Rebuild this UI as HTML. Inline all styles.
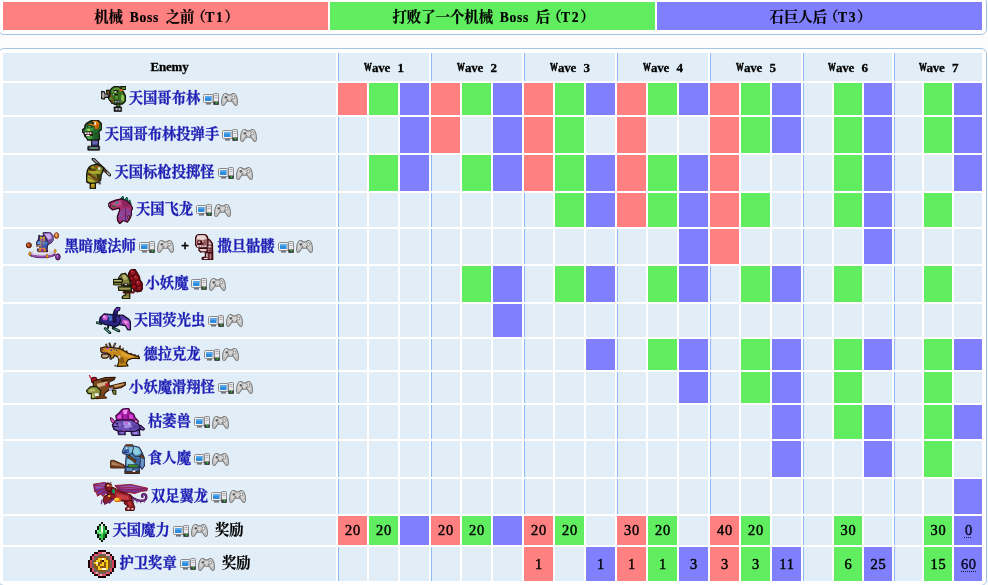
<!DOCTYPE html>
<html lang="zh-Hans"><head><meta charset="utf-8"><title>撒旦军队</title><style>
html,body{margin:0;padding:0;overflow:hidden;}
body{background:#fcfcfc;width:988px;height:585px;overflow:hidden;position:relative;
 font-family:"Liberation Serif","Noto Serif CJK SC",serif;font-size:14.4px;line-height:16px;color:#000;font-weight:bold;}
table{position:absolute;left:-2px;width:989px;border:1px solid #a3c4e0;border-radius:6px;
 border-collapse:separate;border-spacing:2px;padding:2px;background:#fff;table-layout:fixed;box-sizing:border-box;}
td,th{padding:0;margin:0;background:#e1eef7;text-align:center;vertical-align:middle;overflow:hidden;white-space:nowrap;box-sizing:border-box;font-weight:bold;}
#legend{top:-3px;}
#legend td{height:28px;}
#main{top:48px;}
th{height:28px;}
.s{border-left:1px solid #8cb8fa;}
.r{background:#ff8080;border-left:0;}
.g{background:#60ee60;border-left:0;}
.b{background:#8080ff;border-left:0;}
a{color:#1e1eb4;text-decoration:none;-webkit-text-stroke:0.3px #1e1eb4;}
.t,.lg{-webkit-text-stroke:0.2px #000;}
#main td:not(.n){font-size:14.4px;letter-spacing:0.9px;padding:0 0 2px 1px;font-weight:normal;-webkit-text-stroke:0.45px #000;}
#main tr:last-child td:not(.n){padding-bottom:0;}
abbr{color:#101050;letter-spacing:0.5px;margin-right:-0.5px;text-decoration:underline dotted #101040;text-decoration-thickness:1px;text-underline-offset:2px;}
.w{font-size:14.3px;display:flex;align-items:center;justify-content:center;height:100%;}
.w a,.w .t{position:relative;top:-1px;}
svg{display:block;flex:none;}
.sp{margin-right:3px;filter:drop-shadow(0 0 0.6px #fff) drop-shadow(0 0 0.6px #fff);}
.mana{margin-top:3px;position:relative;left:-1px;}
.medal{position:relative;left:-1px;}
.drakin{margin-bottom:1px;}
.pc{margin-left:3px;margin-right:2px;}
.plus{width:8px;margin:0 6.4px 0 7.2px;text-align:center;position:relative;top:-1px;font-family:"Liberation Sans",sans-serif;font-size:13px;-webkit-text-stroke:0.3px #000;}
.t{margin-left:7.2px;}
.lg{position:relative;top:1px;left:1px;word-spacing:2.6px;}
.lp{margin-left:-3px;}
.lg i{font-style:normal;font-size:13.6px;letter-spacing:0.7px;}
.lg i.tn{letter-spacing:1.6px;margin-left:-0.5px;}
th span{position:relative;top:-1px;-webkit-text-stroke:0.3px #000;}
.en{font-size:13px;letter-spacing:-0.2px;}
.wv{font-size:13px;letter-spacing:-0.3px;word-spacing:4.5px;top:0 !important;}
.W{display:inline-block;-webkit-text-stroke:0.7px #000;transform:scaleX(.6);transform-origin:0 50%;margin-right:-5.3px;letter-spacing:0;}
</style></head><body>
<table id="legend"><colgroup><col style="width:325px"><col style="width:325px"><col style="width:325px"></colgroup><tr><td class="r"><span class="lg">机械<i> Boss </i>之前<span class="lp">（</span><i class="tn">T1</i>）</span></td><td class="g"><span class="lg">打败了一个机械<i> Boss </i>后<span class="lp">（</span><i class="tn">T2</i>）</span></td><td class="b"><span class="lg">石巨人后<span class="lp">（</span><i class="tn">T3</i>）</span></td></tr></table>
<table id="main"><colgroup><col style="width:333px"><col style="width:29px"><col style="width:29px"><col style="width:29px"><col style="width:29px"><col style="width:29px"><col style="width:29px"><col style="width:29px"><col style="width:29px"><col style="width:29px"><col style="width:29px"><col style="width:29px"><col style="width:29px"><col style="width:29px"><col style="width:29px"><col style="width:29px"><col style="width:29px"><col style="width:28px"><col style="width:28px"><col style="width:28px"><col style="width:28px"><col style="width:28px"></colgroup>
<tr><th><span class="en">Enemy</span></th><th colspan="3" class="s"><span class="wv"><span class="W">W</span>ave 1</span></th><th colspan="3" class="s"><span class="wv"><span class="W">W</span>ave 2</span></th><th colspan="3" class="s"><span class="wv"><span class="W">W</span>ave 3</span></th><th colspan="3" class="s"><span class="wv"><span class="W">W</span>ave 4</span></th><th colspan="3" class="s"><span class="wv"><span class="W">W</span>ave 5</span></th><th colspan="3" class="s"><span class="wv"><span class="W">W</span>ave 6</span></th><th colspan="3" class="s"><span class="wv"><span class="W">W</span>ave 7</span></th></tr>
<tr style="height:32px"><td class="n"><div class="w" style="height:32px"><svg class="sp goblin" width="25" height="26" viewBox="0 0 25 26"><g transform="translate(-3 -2) scale(0.05128)"><polygon points="165,125 215,120 235,200 300,330 270,375 215,290 175,200" fill="#6e4a1c" stroke="#141410" stroke-width="22" stroke-linejoin="round"/><polygon points="185,140 205,140 225,215 270,310 255,330 215,250" fill="#9a6c2c"/><polygon points="70,145 125,150 135,195 200,195 200,262 135,262 125,295 70,285 60,215" fill="#7c7c7c" stroke="#141410" stroke-width="22" stroke-linejoin="round"/><rect x="88" y="170" width="30" height="100" fill="#b4b4b4"/><rect x="135" y="210" width="55" height="35" fill="#8c8c8c"/><polygon points="440,52 545,48 545,105 470,112" fill="#5a9a30" stroke="#141410" stroke-width="22" stroke-linejoin="round"/><polygon points="320,52 410,52 455,100 505,170 538,240 535,330 505,365 470,392 320,395 270,370 240,320 215,300 215,250 240,200 232,130 265,85" fill="#38701f" stroke="#141410" stroke-width="26" stroke-linejoin="round"/><polygon points="310,75 400,75 440,120 350,125 270,180 262,130" fill="#5c9836"/><polygon points="455,205 505,225 510,320 465,350 445,300" fill="#8cc050"/><polygon points="300,225 400,222 420,300 320,310" fill="#2c5c18"/><polygon points="330,235 390,235 395,290 340,295" fill="#4f9430"/><polygon points="232,215 255,205 305,320 290,365 262,350" fill="#7a5220"/><rect x="420" y="100" width="62" height="40" fill="#e07010"/><rect x="300" y="118" width="95" height="24" fill="#141410"/><rect x="320" y="140" width="42" height="26" fill="#f4f4f4"/><rect x="362" y="142" width="30" height="24" fill="#141410"/><rect x="310" y="196" width="82" height="20" fill="#141410"/><rect x="292" y="198" width="22" height="18" fill="#f0f0f0"/><rect x="222" y="268" width="46" height="37" fill="#5a9a30"/><rect x="322" y="325" width="126" height="39" fill="#aab4bc" stroke="#141410" stroke-width="10"/><rect x="360" y="330" width="25" height="30" fill="#3c4448"/><rect x="405" y="330" width="20" height="30" fill="#3c4448"/><rect x="365" y="392" width="63" height="58" fill="#4f9430" stroke="#141410" stroke-width="20"/><rect x="312" y="445" width="150" height="95" fill="#181818" rx="8" stroke="#141410" stroke-width="12"/><rect x="340" y="468" width="100" height="44" fill="#b4babe"/><rect x="380" y="468" width="20" height="44" fill="#303436"/></g></svg><a>天国哥布林</a><svg class="pc" width="16" height="12" viewBox="0 0 16 12"><rect x="0.5" y="1.5" width="9.5" height="8" rx="1" fill="#f4f0ec" stroke="#8a8a8e" stroke-width="1"/><rect x="2" y="3" width="6.5" height="5" fill="#2f8de0"/><rect x="2" y="3" width="6.5" height="2" fill="#5aa8ec"/><rect x="3" y="10" width="5" height="1.6" fill="#77777b"/><rect x="10.5" y="0.5" width="5" height="11" rx="0.8" fill="#e8e8ea" stroke="#8a8a8e" stroke-width="1"/><rect x="11.5" y="2" width="3" height="1" fill="#a8a8ac"/><rect x="11.5" y="4" width="3" height="1" fill="#b8b0b8"/><rect x="10.4" y="8.5" width="5.4" height="3.3" fill="#3a3a3a"/><rect x="12.6" y="9.2" width="1.6" height="1.4" fill="#20e030"/></svg><svg class="pad" width="17" height="13" viewBox="0 0 17 13"><path d="M3.2 0.9 C4.6 0.1 5.9 0.6 6.6 1.9 L10.4 1.9 C11.1 0.6 12.4 0.1 13.8 0.9 C15.6 2.6 16.6 7.4 16.3 11 C16 12.7 14.4 12.8 13.6 11.6 L11.2 8.3 L5.8 8.3 L3.4 11.6 C2.6 12.8 1 12.7 0.7 11 C0.4 7.4 1.4 2.6 3.2 0.9 Z" fill="#d4d4d4" stroke="#7c7c7c" stroke-width="1.1"/><path d="M3 2.2 C3.8 1.6 4.8 1.7 5.4 2.4 M11.6 2.4 C12.2 1.7 13.2 1.6 14 2.2" stroke="#f4f4f4" stroke-width="0.9" fill="none"/><path d="M3.5 4.4h2.8M4.9 3v2.8" stroke="#5c5c5c" stroke-width="1.3" fill="none"/><circle cx="12.4" cy="4.4" r="1.45" fill="#f8f8f8" stroke="#6c6c6c" stroke-width="0.8"/><circle cx="6.4" cy="6.9" r="0.9" fill="#707070"/><circle cx="10.6" cy="6.9" r="0.9" fill="#707070"/><path d="M2.2 8.5 L3 10.8 M14.8 8.5 L14 10.8" stroke="#b4b4b4" stroke-width="0.9" fill="none"/></svg></div></td><td class="s r"></td><td class="g"></td><td class="b"></td><td class="s r"></td><td class="g"></td><td class="b"></td><td class="s r"></td><td class="g"></td><td class="b"></td><td class="s r"></td><td class="g"></td><td class="b"></td><td class="s r"></td><td class="g"></td><td class="b"></td><td class="s"></td><td class="g"></td><td class="b"></td><td class="s"></td><td class="g"></td><td class="b"></td></tr>
<tr style="height:36px"><td class="n"><div class="w" style="height:36px"><svg class="sp bomber" width="20" height="31" viewBox="0 0 20 31"><g transform="translate(-6 -2) scale(0.05470)"><rect x="285" y="395" width="125" height="120" fill="#4c4494" stroke="#141410" stroke-width="22"/><rect x="300" y="420" width="90" height="50" fill="#7068c0"/><rect x="275" y="385" width="75" height="35" fill="#c0c8dc" stroke="#141410" stroke-width="8"/><rect x="215" y="515" width="217" height="75" fill="#20242c" rx="6" stroke="#141410" stroke-width="14"/><rect x="245" y="535" width="160" height="27" fill="#8c9cbc"/><rect x="300" y="538" width="45" height="24" fill="#3ca83c"/><polygon points="290,42 400,38 468,108 476,200 415,250 425,300 428,395 300,405 215,405 200,370 160,330 150,285 112,250 115,215 160,190 165,130 200,92" fill="#246c2e" stroke="#141410" stroke-width="26" stroke-linejoin="round"/><polygon points="190,150 300,140 330,200 300,240 135,245 135,225 180,200" fill="#3c9440"/><polygon points="330,255 405,255 412,380 335,390" fill="#1c5c24"/><polygon points="185,335 300,325 290,375 225,390" fill="#44a846"/><polygon points="200,108 300,98 310,50 382,46 435,100 415,192 355,214 332,150 250,134" fill="#e07c08" stroke="#141410" stroke-width="8" stroke-linejoin="round"/><polygon points="305,62 365,58 340,110" fill="#f4a83c"/><polygon points="385,110 420,105 405,185 370,195" fill="#b85c04"/><rect x="335" y="78" width="30" height="46" fill="#f8f8f8"/><rect x="285" y="78" width="47" height="34" fill="#202020"/><rect x="200" y="140" width="100" height="40" fill="#144c1c"/><rect x="225" y="150" width="40" height="22" fill="#6cc060"/><polygon points="158,258 302,252 302,325 178,330" fill="#400a0e" stroke="#141410" stroke-width="8" stroke-linejoin="round"/><rect x="162" y="262" width="34" height="30" fill="#f4f4f4"/><rect x="206" y="262" width="32" height="32" fill="#f4f4f4"/><rect x="248" y="262" width="36" height="30" fill="#f4f4f4"/><rect x="185" y="308" width="67" height="24" fill="#f4f4f4"/><rect x="208" y="200" width="46" height="34" fill="#c8dc50"/><rect x="125" y="222" width="35" height="20" fill="#144c1c"/></g></svg><a>天国哥布林投弹手</a><svg class="pc" width="16" height="12" viewBox="0 0 16 12"><rect x="0.5" y="1.5" width="9.5" height="8" rx="1" fill="#f4f0ec" stroke="#8a8a8e" stroke-width="1"/><rect x="2" y="3" width="6.5" height="5" fill="#2f8de0"/><rect x="2" y="3" width="6.5" height="2" fill="#5aa8ec"/><rect x="3" y="10" width="5" height="1.6" fill="#77777b"/><rect x="10.5" y="0.5" width="5" height="11" rx="0.8" fill="#e8e8ea" stroke="#8a8a8e" stroke-width="1"/><rect x="11.5" y="2" width="3" height="1" fill="#a8a8ac"/><rect x="11.5" y="4" width="3" height="1" fill="#b8b0b8"/><rect x="10.4" y="8.5" width="5.4" height="3.3" fill="#3a3a3a"/><rect x="12.6" y="9.2" width="1.6" height="1.4" fill="#20e030"/></svg><svg class="pad" width="17" height="13" viewBox="0 0 17 13"><path d="M3.2 0.9 C4.6 0.1 5.9 0.6 6.6 1.9 L10.4 1.9 C11.1 0.6 12.4 0.1 13.8 0.9 C15.6 2.6 16.6 7.4 16.3 11 C16 12.7 14.4 12.8 13.6 11.6 L11.2 8.3 L5.8 8.3 L3.4 11.6 C2.6 12.8 1 12.7 0.7 11 C0.4 7.4 1.4 2.6 3.2 0.9 Z" fill="#d4d4d4" stroke="#7c7c7c" stroke-width="1.1"/><path d="M3 2.2 C3.8 1.6 4.8 1.7 5.4 2.4 M11.6 2.4 C12.2 1.7 13.2 1.6 14 2.2" stroke="#f4f4f4" stroke-width="0.9" fill="none"/><path d="M3.5 4.4h2.8M4.9 3v2.8" stroke="#5c5c5c" stroke-width="1.3" fill="none"/><circle cx="12.4" cy="4.4" r="1.45" fill="#f8f8f8" stroke="#6c6c6c" stroke-width="0.8"/><circle cx="6.4" cy="6.9" r="0.9" fill="#707070"/><circle cx="10.6" cy="6.9" r="0.9" fill="#707070"/><path d="M2.2 8.5 L3 10.8 M14.8 8.5 L14 10.8" stroke="#b4b4b4" stroke-width="0.9" fill="none"/></svg></div></td><td class="s"></td><td></td><td class="b"></td><td class="s r"></td><td></td><td class="b"></td><td class="s r"></td><td class="g"></td><td></td><td class="s r"></td><td></td><td></td><td class="s r"></td><td class="g"></td><td class="b"></td><td class="s"></td><td class="g"></td><td class="b"></td><td class="s"></td><td class="g"></td><td class="b"></td></tr>
<tr style="height:36px"><td class="n"><div class="w" style="height:36px"><svg class="sp javelin" width="25" height="31" viewBox="0 0 25 31"><g transform="translate(-4 -2) scale(0.05470)"><polyline points="205,55 505,345" fill="none" stroke="#141410" stroke-width="60" stroke-linecap="round" stroke-linejoin="round"/><polyline points="215,65 495,335" fill="none" stroke="#5c4034" stroke-width="28" stroke-linecap="round" stroke-linejoin="round"/><polyline points="210,60 270,118" fill="none" stroke="#8e8e9c" stroke-width="28" stroke-linecap="round" stroke-linejoin="round"/><polyline points="465,305 500,340" fill="none" stroke="#a8a8b4" stroke-width="28" stroke-linecap="round" stroke-linejoin="round"/><rect x="150" y="480" width="95" height="120" fill="#8c7414" stroke="#141410" stroke-width="24"/><rect x="170" y="500" width="55" height="60" fill="#c4a420"/><polygon points="180,172 270,152 345,182 400,215 380,285 352,335 342,440 302,482 250,492 150,500 92,480 78,400 92,300 102,252 132,202" fill="#7c8020" stroke="#141410" stroke-width="26" stroke-linejoin="round"/><polygon points="130,270 330,270 340,320 200,330 110,300" fill="#a8a830"/><polygon points="110,400 200,440 240,480 150,480 100,450" fill="#b8ac30"/><polygon points="150,200 250,180 280,240 160,250" fill="#6c7418"/><polygon points="260,330 340,340 335,430 300,470" fill="#3c3c0c"/><polygon points="120,330 200,350 200,400 110,380" fill="#c8c040"/><polyline points="112,320 300,455" fill="none" stroke="#5c3414" stroke-width="44" stroke-linecap="butt" stroke-linejoin="round"/><polyline points="130,250 250,260" fill="none" stroke="#5c3414" stroke-width="26" stroke-linecap="butt" stroke-linejoin="round"/><polyline points="140,345 290,452" fill="none" stroke="#8c5424" stroke-width="16" stroke-linecap="butt" stroke-linejoin="round"/><rect x="178" y="190" width="34" height="32" fill="#d89818"/><rect x="250" y="185" width="32" height="31" fill="#c82c1c"/><polygon points="292,212 332,205 338,250 300,255" fill="#e8e8ec"/><rect x="300" y="470" width="45" height="50" fill="#505058"/><rect x="120" y="215" width="50" height="25" fill="#202008"/></g></svg><a>天国标枪投掷怪</a><svg class="pc" width="16" height="12" viewBox="0 0 16 12"><rect x="0.5" y="1.5" width="9.5" height="8" rx="1" fill="#f4f0ec" stroke="#8a8a8e" stroke-width="1"/><rect x="2" y="3" width="6.5" height="5" fill="#2f8de0"/><rect x="2" y="3" width="6.5" height="2" fill="#5aa8ec"/><rect x="3" y="10" width="5" height="1.6" fill="#77777b"/><rect x="10.5" y="0.5" width="5" height="11" rx="0.8" fill="#e8e8ea" stroke="#8a8a8e" stroke-width="1"/><rect x="11.5" y="2" width="3" height="1" fill="#a8a8ac"/><rect x="11.5" y="4" width="3" height="1" fill="#b8b0b8"/><rect x="10.4" y="8.5" width="5.4" height="3.3" fill="#3a3a3a"/><rect x="12.6" y="9.2" width="1.6" height="1.4" fill="#20e030"/></svg><svg class="pad" width="17" height="13" viewBox="0 0 17 13"><path d="M3.2 0.9 C4.6 0.1 5.9 0.6 6.6 1.9 L10.4 1.9 C11.1 0.6 12.4 0.1 13.8 0.9 C15.6 2.6 16.6 7.4 16.3 11 C16 12.7 14.4 12.8 13.6 11.6 L11.2 8.3 L5.8 8.3 L3.4 11.6 C2.6 12.8 1 12.7 0.7 11 C0.4 7.4 1.4 2.6 3.2 0.9 Z" fill="#d4d4d4" stroke="#7c7c7c" stroke-width="1.1"/><path d="M3 2.2 C3.8 1.6 4.8 1.7 5.4 2.4 M11.6 2.4 C12.2 1.7 13.2 1.6 14 2.2" stroke="#f4f4f4" stroke-width="0.9" fill="none"/><path d="M3.5 4.4h2.8M4.9 3v2.8" stroke="#5c5c5c" stroke-width="1.3" fill="none"/><circle cx="12.4" cy="4.4" r="1.45" fill="#f8f8f8" stroke="#6c6c6c" stroke-width="0.8"/><circle cx="6.4" cy="6.9" r="0.9" fill="#707070"/><circle cx="10.6" cy="6.9" r="0.9" fill="#707070"/><path d="M2.2 8.5 L3 10.8 M14.8 8.5 L14 10.8" stroke="#b4b4b4" stroke-width="0.9" fill="none"/></svg></div></td><td class="s"></td><td class="g"></td><td class="b"></td><td class="s"></td><td class="g"></td><td class="b"></td><td class="s r"></td><td class="g"></td><td class="b"></td><td class="s r"></td><td class="g"></td><td class="b"></td><td class="s r"></td><td></td><td></td><td class="s"></td><td class="g"></td><td class="b"></td><td class="s"></td><td></td><td class="b"></td></tr>
<tr style="height:34px"><td class="n"><div class="w" style="height:34px"><svg class="sp wyvern" width="25" height="28" viewBox="0 0 25 28"><g transform="translate(-4 -3) scale(0.05814)"><polygon points="285,95 325,50 345,110" fill="#12a884" stroke="#053c30" stroke-width="16" stroke-linejoin="round"/><polygon points="355,115 395,70 415,130" fill="#12a884" stroke="#053c30" stroke-width="16" stroke-linejoin="round"/><polygon points="415,150 445,118 455,165" fill="#12a884" stroke="#053c30" stroke-width="16" stroke-linejoin="round"/><polygon points="435,185 465,170 462,205" fill="#0c7058" stroke="#053c30" stroke-width="16" stroke-linejoin="round"/><polygon points="72,195 102,162 200,122 300,102 400,142 460,202 495,265 470,300 470,382 440,452 402,500 332,472 270,530 232,472 230,402 270,292 260,262 150,290 112,262 82,225" fill="#a8306c" stroke="#300420" stroke-width="22" stroke-linejoin="round"/><polygon points="292,275 460,272 452,400 382,470 282,470 250,402" fill="#8848a0"/><polyline points="300,280 440,440" fill="none" stroke="#a8306c" stroke-width="20" stroke-linecap="round" stroke-linejoin="round"/><polyline points="450,280 290,450" fill="none" stroke="#a8306c" stroke-width="20" stroke-linecap="round" stroke-linejoin="round"/><polyline points="370,270 370,470" fill="none" stroke="#5c2474" stroke-width="18" stroke-linecap="round" stroke-linejoin="round"/><polygon points="130,180 280,130 300,200 180,240" fill="#c04c8c"/><polygon points="300,130 400,160 440,240 330,250" fill="#8c2460"/><rect x="200" y="150" width="40" height="30" fill="#12a884"/><rect x="135" y="215" width="80" height="25" fill="#3c6c30"/><polygon points="78,180 108,175 112,225 85,222" fill="#e8b894" stroke="#300420" stroke-width="14" stroke-linejoin="round"/><polygon points="410,395 440,392 442,440 415,445" fill="#d8a888" stroke="#300420" stroke-width="14" stroke-linejoin="round"/></g></svg><a>天国飞龙</a><svg class="pc" width="16" height="12" viewBox="0 0 16 12"><rect x="0.5" y="1.5" width="9.5" height="8" rx="1" fill="#f4f0ec" stroke="#8a8a8e" stroke-width="1"/><rect x="2" y="3" width="6.5" height="5" fill="#2f8de0"/><rect x="2" y="3" width="6.5" height="2" fill="#5aa8ec"/><rect x="3" y="10" width="5" height="1.6" fill="#77777b"/><rect x="10.5" y="0.5" width="5" height="11" rx="0.8" fill="#e8e8ea" stroke="#8a8a8e" stroke-width="1"/><rect x="11.5" y="2" width="3" height="1" fill="#a8a8ac"/><rect x="11.5" y="4" width="3" height="1" fill="#b8b0b8"/><rect x="10.4" y="8.5" width="5.4" height="3.3" fill="#3a3a3a"/><rect x="12.6" y="9.2" width="1.6" height="1.4" fill="#20e030"/></svg><svg class="pad" width="17" height="13" viewBox="0 0 17 13"><path d="M3.2 0.9 C4.6 0.1 5.9 0.6 6.6 1.9 L10.4 1.9 C11.1 0.6 12.4 0.1 13.8 0.9 C15.6 2.6 16.6 7.4 16.3 11 C16 12.7 14.4 12.8 13.6 11.6 L11.2 8.3 L5.8 8.3 L3.4 11.6 C2.6 12.8 1 12.7 0.7 11 C0.4 7.4 1.4 2.6 3.2 0.9 Z" fill="#d4d4d4" stroke="#7c7c7c" stroke-width="1.1"/><path d="M3 2.2 C3.8 1.6 4.8 1.7 5.4 2.4 M11.6 2.4 C12.2 1.7 13.2 1.6 14 2.2" stroke="#f4f4f4" stroke-width="0.9" fill="none"/><path d="M3.5 4.4h2.8M4.9 3v2.8" stroke="#5c5c5c" stroke-width="1.3" fill="none"/><circle cx="12.4" cy="4.4" r="1.45" fill="#f8f8f8" stroke="#6c6c6c" stroke-width="0.8"/><circle cx="6.4" cy="6.9" r="0.9" fill="#707070"/><circle cx="10.6" cy="6.9" r="0.9" fill="#707070"/><path d="M2.2 8.5 L3 10.8 M14.8 8.5 L14 10.8" stroke="#b4b4b4" stroke-width="0.9" fill="none"/></svg></div></td><td class="s"></td><td></td><td></td><td class="s"></td><td></td><td></td><td class="s"></td><td class="g"></td><td class="b"></td><td class="s r"></td><td class="g"></td><td class="b"></td><td class="s r"></td><td class="g"></td><td></td><td class="s"></td><td class="g"></td><td class="b"></td><td class="s"></td><td class="g"></td><td></td></tr>
<tr style="height:35px"><td class="n"><div class="w" style="height:35px"><svg class="sp mage" width="35" height="29" viewBox="0 0 35 29"><g transform="translate(-5 -6) scale(0.06831)"><circle cx="115" cy="282" r="38" fill="#a8441c" stroke="#4c1408" stroke-width="14"/><circle cx="105" cy="270" r="14" fill="#e08848"/><ellipse cx="520" cy="140" rx="30" ry="42" fill="#e08430" stroke="#6c1410" stroke-width="14"/><ellipse cx="515" cy="130" rx="12" ry="20" fill="#f8c080"/><ellipse cx="540" cy="452" rx="34" ry="46" fill="#8438a0" stroke="#34083c" stroke-width="14"/><ellipse cx="530" cy="440" rx="12" ry="18" fill="#b070c8"/><ellipse cx="310" cy="415" rx="192" ry="50" fill="#742894" stroke="#34083c" stroke-width="12"/><ellipse cx="310" cy="392" rx="186" ry="44" fill="#d4d0e0"/><ellipse cx="300" cy="384" rx="125" ry="22" fill="#f0f0f6"/><polygon points="150,420 300,440 470,420 460,445 300,462 160,445" fill="#9c50b8"/><ellipse cx="130" cy="405" rx="17" ry="28" fill="#f0a020" stroke="#7c4808" stroke-width="8"/><ellipse cx="382" cy="445" rx="15" ry="30" fill="#f0a020" stroke="#7c4808" stroke-width="8"/><ellipse cx="500" cy="365" rx="17" ry="26" fill="#f0a020" stroke="#7c4808" stroke-width="8"/><polygon points="320,100 420,88 470,140 472,210 440,250 400,270 350,200" fill="#9068c0" stroke="#241838" stroke-width="14" stroke-linejoin="round"/><polygon points="350,118 420,112 448,168 405,212" fill="#c8acec"/><polygon points="400,200 450,190 430,245 395,262" fill="#6c48a0"/><polygon points="262,135 300,152 340,140 378,200 396,260 382,330 388,375 250,375 235,300 228,240 255,200" fill="#4c4084" stroke="#241838" stroke-width="16" stroke-linejoin="round"/><polygon points="240,228 286,225 280,262 238,262" fill="#58a0e8"/><polygon points="345,225 392,230 386,275 345,270" fill="#3c78d0"/><polygon points="250,270 385,275 380,320 255,318" fill="#3858b0"/><polygon points="280,150 315,172 350,150 342,218 288,218" fill="#f0c828"/><rect x="300" y="182" width="30" height="36" fill="#7c2cac"/><rect x="278" y="228" width="64" height="42" fill="#9c9ca8"/><rect x="295" y="240" width="30" height="22" fill="#504c5c"/><polygon points="270,320 350,320 372,372 255,372" fill="#e48828"/><rect x="295" y="335" width="35" height="37" fill="#7c2cac"/><rect x="236" y="282" width="64" height="20" fill="#e48828"/><rect x="232" y="305" width="30" height="25" fill="#f4f4f8"/></g></svg><a>黑暗魔法师</a><svg class="pc" width="16" height="12" viewBox="0 0 16 12"><rect x="0.5" y="1.5" width="9.5" height="8" rx="1" fill="#f4f0ec" stroke="#8a8a8e" stroke-width="1"/><rect x="2" y="3" width="6.5" height="5" fill="#2f8de0"/><rect x="2" y="3" width="6.5" height="2" fill="#5aa8ec"/><rect x="3" y="10" width="5" height="1.6" fill="#77777b"/><rect x="10.5" y="0.5" width="5" height="11" rx="0.8" fill="#e8e8ea" stroke="#8a8a8e" stroke-width="1"/><rect x="11.5" y="2" width="3" height="1" fill="#a8a8ac"/><rect x="11.5" y="4" width="3" height="1" fill="#b8b0b8"/><rect x="10.4" y="8.5" width="5.4" height="3.3" fill="#3a3a3a"/><rect x="12.6" y="9.2" width="1.6" height="1.4" fill="#20e030"/></svg><svg class="pad" width="17" height="13" viewBox="0 0 17 13"><path d="M3.2 0.9 C4.6 0.1 5.9 0.6 6.6 1.9 L10.4 1.9 C11.1 0.6 12.4 0.1 13.8 0.9 C15.6 2.6 16.6 7.4 16.3 11 C16 12.7 14.4 12.8 13.6 11.6 L11.2 8.3 L5.8 8.3 L3.4 11.6 C2.6 12.8 1 12.7 0.7 11 C0.4 7.4 1.4 2.6 3.2 0.9 Z" fill="#d4d4d4" stroke="#7c7c7c" stroke-width="1.1"/><path d="M3 2.2 C3.8 1.6 4.8 1.7 5.4 2.4 M11.6 2.4 C12.2 1.7 13.2 1.6 14 2.2" stroke="#f4f4f4" stroke-width="0.9" fill="none"/><path d="M3.5 4.4h2.8M4.9 3v2.8" stroke="#5c5c5c" stroke-width="1.3" fill="none"/><circle cx="12.4" cy="4.4" r="1.45" fill="#f8f8f8" stroke="#6c6c6c" stroke-width="0.8"/><circle cx="6.4" cy="6.9" r="0.9" fill="#707070"/><circle cx="10.6" cy="6.9" r="0.9" fill="#707070"/><path d="M2.2 8.5 L3 10.8 M14.8 8.5 L14 10.8" stroke="#b4b4b4" stroke-width="0.9" fill="none"/></svg><span class="plus">+</span><svg class="sp skeleton" width="19" height="26" viewBox="0 0 19 26"><g transform="translate(-26 -4) scale(0.05814)"><polygon points="640,150 700,170 745,230 750,390 650,395 640,300" fill="#b88484" stroke="#3a0a10" stroke-width="24" stroke-linejoin="round"/><polygon points="670,200 715,235 715,300 680,300" fill="#ecd8d8"/><polyline points="660,255 740,265" fill="none" stroke="#3a0a10" stroke-width="14" stroke-linecap="butt" stroke-linejoin="round"/><polyline points="655,310 745,315" fill="none" stroke="#3a0a10" stroke-width="16" stroke-linecap="butt" stroke-linejoin="round"/><polyline points="660,355 745,358" fill="none" stroke="#3a0a10" stroke-width="14" stroke-linecap="butt" stroke-linejoin="round"/><polygon points="700,330 740,330 740,385 700,385" fill="#7c3c44"/><polygon points="625,392 750,392 752,512 572,512 572,478 628,462" fill="#6c2c34" stroke="#3a0a10" stroke-width="24" stroke-linejoin="round"/><rect x="600" y="482" width="65" height="18" fill="#f0e4e4"/><rect x="640" y="400" width="24" height="70" fill="#e4cccc"/><rect x="700" y="405" width="25" height="95" fill="#b47c80"/><polygon points="515,315 655,312 655,372 545,375 515,350" fill="#e8cccc" stroke="#3a0a10" stroke-width="22" stroke-linejoin="round"/><polyline points="520,355 545,385" fill="none" stroke="#3a0a10" stroke-width="16" stroke-linecap="round" stroke-linejoin="round"/><path d="M455 150 C455 95 500 72 560 72 C625 72 668 100 668 160 L668 270 L640 292 L480 292 L455 250 Z" fill="#c89898" stroke="#3a0a10" stroke-width="24" stroke-linejoin="round"/><polygon points="485,95 620,92 640,150 575,170 478,150" fill="#ecd4d4"/><polygon points="590,170 655,165 655,275 600,280" fill="#9c6064"/><rect x="486" y="178" width="82" height="80" fill="#4c1218"/><rect x="505" y="195" width="30" height="30" fill="#e8c8c8"/><rect x="570" y="215" width="28" height="47" fill="#5c1c22"/><rect x="480" y="268" width="165" height="24" fill="#f0e0e0"/><polyline points="520,268 520,292" fill="none" stroke="#3a0a10" stroke-width="10" stroke-linecap="butt" stroke-linejoin="round"/><polyline points="560,268 560,292" fill="none" stroke="#3a0a10" stroke-width="10" stroke-linecap="butt" stroke-linejoin="round"/><polyline points="600,268 600,292" fill="none" stroke="#3a0a10" stroke-width="10" stroke-linecap="butt" stroke-linejoin="round"/></g></svg><a>撒旦骷髅</a><svg class="pc" width="16" height="12" viewBox="0 0 16 12"><rect x="0.5" y="1.5" width="9.5" height="8" rx="1" fill="#f4f0ec" stroke="#8a8a8e" stroke-width="1"/><rect x="2" y="3" width="6.5" height="5" fill="#2f8de0"/><rect x="2" y="3" width="6.5" height="2" fill="#5aa8ec"/><rect x="3" y="10" width="5" height="1.6" fill="#77777b"/><rect x="10.5" y="0.5" width="5" height="11" rx="0.8" fill="#e8e8ea" stroke="#8a8a8e" stroke-width="1"/><rect x="11.5" y="2" width="3" height="1" fill="#a8a8ac"/><rect x="11.5" y="4" width="3" height="1" fill="#b8b0b8"/><rect x="10.4" y="8.5" width="5.4" height="3.3" fill="#3a3a3a"/><rect x="12.6" y="9.2" width="1.6" height="1.4" fill="#20e030"/></svg><svg class="pad" width="17" height="13" viewBox="0 0 17 13"><path d="M3.2 0.9 C4.6 0.1 5.9 0.6 6.6 1.9 L10.4 1.9 C11.1 0.6 12.4 0.1 13.8 0.9 C15.6 2.6 16.6 7.4 16.3 11 C16 12.7 14.4 12.8 13.6 11.6 L11.2 8.3 L5.8 8.3 L3.4 11.6 C2.6 12.8 1 12.7 0.7 11 C0.4 7.4 1.4 2.6 3.2 0.9 Z" fill="#d4d4d4" stroke="#7c7c7c" stroke-width="1.1"/><path d="M3 2.2 C3.8 1.6 4.8 1.7 5.4 2.4 M11.6 2.4 C12.2 1.7 13.2 1.6 14 2.2" stroke="#f4f4f4" stroke-width="0.9" fill="none"/><path d="M3.5 4.4h2.8M4.9 3v2.8" stroke="#5c5c5c" stroke-width="1.3" fill="none"/><circle cx="12.4" cy="4.4" r="1.45" fill="#f8f8f8" stroke="#6c6c6c" stroke-width="0.8"/><circle cx="6.4" cy="6.9" r="0.9" fill="#707070"/><circle cx="10.6" cy="6.9" r="0.9" fill="#707070"/><path d="M2.2 8.5 L3 10.8 M14.8 8.5 L14 10.8" stroke="#b4b4b4" stroke-width="0.9" fill="none"/></svg></div></td><td class="s"></td><td></td><td></td><td class="s"></td><td></td><td></td><td class="s"></td><td></td><td></td><td class="s"></td><td></td><td class="b"></td><td class="s r"></td><td></td><td></td><td class="s"></td><td></td><td class="b"></td><td class="s"></td><td></td><td></td></tr>
<tr style="height:36px"><td class="n"><div class="w" style="height:36px"><svg class="sp kobold" width="30" height="30" viewBox="0 0 30 30"><g transform="translate(-4 -3) scale(0.06498)"><polygon points="300,110 330,60 400,50 440,110 470,160 480,215 510,260 522,330 500,385 440,400 380,380 350,300 330,230 300,170" fill="#7c0c16" stroke="#34040a" stroke-width="16" stroke-linejoin="round"/><circle cx="365" cy="100" r="40" fill="#c41828" stroke="#34040a" stroke-width="12"/><circle cx="415" cy="180" r="40" fill="#c41828" stroke="#34040a" stroke-width="12"/><circle cx="450" cy="262" r="40" fill="#c41828" stroke="#34040a" stroke-width="12"/><circle cx="462" cy="340" r="38" fill="#b41422" stroke="#34040a" stroke-width="12"/><circle cx="385" cy="320" r="36" fill="#a8101c" stroke="#34040a" stroke-width="12"/><circle cx="350" cy="190" r="30" fill="#b41422" stroke="#34040a" stroke-width="12"/><circle cx="365" cy="105" r="14" fill="#5c2c28"/><circle cx="415" cy="185" r="14" fill="#5c2c28"/><circle cx="450" cy="268" r="14" fill="#5c2c28"/><circle cx="460" cy="342" r="14" fill="#5c2c28"/><circle cx="350" cy="82" r="10" fill="#e85060"/><circle cx="402" cy="160" r="10" fill="#e85060"/><circle cx="438" cy="242" r="10" fill="#e85060"/><polygon points="250,400 320,410 320,500 205,505 205,470 255,440" fill="#7c7c38" stroke="#1a1a04" stroke-width="20" stroke-linejoin="round"/><rect x="225" y="470" width="75" height="20" fill="#a8a85c"/><rect x="210" y="388" width="185" height="34" fill="#5c1018"/><polygon points="230,280 340,285 345,395 240,400" fill="#64642c" stroke="#1a1a04" stroke-width="20" stroke-linejoin="round"/><polygon points="142,322 340,318 340,372 150,375" fill="#9c9c54" stroke="#1a1a04" stroke-width="18" stroke-linejoin="round"/><polygon points="190,125 250,112 300,170 325,250 320,300 200,300 150,250 150,180" fill="#848440" stroke="#1a1a04" stroke-width="20" stroke-linejoin="round"/><polygon points="200,140 250,135 290,200 230,220" fill="#b4b46c"/><rect x="65" y="205" width="140" height="45" fill="#90904a" rx="8" stroke="#1a1a04" stroke-width="18"/><rect x="70" y="252" width="125" height="40" fill="#7c7c3c" rx="8" stroke="#1a1a04" stroke-width="16"/><rect x="82" y="215" width="108" height="20" fill="#b8b870"/><rect x="150" y="168" width="42" height="32" fill="#101008"/><rect x="160" y="172" width="20" height="14" fill="#d8d8d0"/><rect x="215" y="268" width="87" height="34" fill="#28242c"/><rect x="245" y="275" width="30" height="20" fill="#d0d0d8"/></g></svg><a>小妖魔</a><svg class="pc" width="16" height="12" viewBox="0 0 16 12"><rect x="0.5" y="1.5" width="9.5" height="8" rx="1" fill="#f4f0ec" stroke="#8a8a8e" stroke-width="1"/><rect x="2" y="3" width="6.5" height="5" fill="#2f8de0"/><rect x="2" y="3" width="6.5" height="2" fill="#5aa8ec"/><rect x="3" y="10" width="5" height="1.6" fill="#77777b"/><rect x="10.5" y="0.5" width="5" height="11" rx="0.8" fill="#e8e8ea" stroke="#8a8a8e" stroke-width="1"/><rect x="11.5" y="2" width="3" height="1" fill="#a8a8ac"/><rect x="11.5" y="4" width="3" height="1" fill="#b8b0b8"/><rect x="10.4" y="8.5" width="5.4" height="3.3" fill="#3a3a3a"/><rect x="12.6" y="9.2" width="1.6" height="1.4" fill="#20e030"/></svg><svg class="pad" width="17" height="13" viewBox="0 0 17 13"><path d="M3.2 0.9 C4.6 0.1 5.9 0.6 6.6 1.9 L10.4 1.9 C11.1 0.6 12.4 0.1 13.8 0.9 C15.6 2.6 16.6 7.4 16.3 11 C16 12.7 14.4 12.8 13.6 11.6 L11.2 8.3 L5.8 8.3 L3.4 11.6 C2.6 12.8 1 12.7 0.7 11 C0.4 7.4 1.4 2.6 3.2 0.9 Z" fill="#d4d4d4" stroke="#7c7c7c" stroke-width="1.1"/><path d="M3 2.2 C3.8 1.6 4.8 1.7 5.4 2.4 M11.6 2.4 C12.2 1.7 13.2 1.6 14 2.2" stroke="#f4f4f4" stroke-width="0.9" fill="none"/><path d="M3.5 4.4h2.8M4.9 3v2.8" stroke="#5c5c5c" stroke-width="1.3" fill="none"/><circle cx="12.4" cy="4.4" r="1.45" fill="#f8f8f8" stroke="#6c6c6c" stroke-width="0.8"/><circle cx="6.4" cy="6.9" r="0.9" fill="#707070"/><circle cx="10.6" cy="6.9" r="0.9" fill="#707070"/><path d="M2.2 8.5 L3 10.8 M14.8 8.5 L14 10.8" stroke="#b4b4b4" stroke-width="0.9" fill="none"/></svg></div></td><td class="s"></td><td></td><td></td><td class="s"></td><td class="g"></td><td class="b"></td><td class="s"></td><td class="g"></td><td class="b"></td><td class="s"></td><td class="g"></td><td class="b"></td><td class="s"></td><td class="g"></td><td class="b"></td><td class="s"></td><td class="g"></td><td></td><td class="s"></td><td class="g"></td><td></td></tr>
<tr style="height:33px"><td class="n"><div class="w" style="height:33px"><svg class="sp lightbug" width="35" height="27" viewBox="0 0 35 27"><g transform="translate(-4 -5) scale(0.06158)"><polyline points="85,335 150,350" fill="none" stroke="#0c2420" stroke-width="46" stroke-linecap="round" stroke-linejoin="round"/><polyline points="90,335 145,345" fill="none" stroke="#58a890" stroke-width="18" stroke-linecap="round" stroke-linejoin="round"/><polyline points="215,430 290,500" fill="none" stroke="#0c2420" stroke-width="46" stroke-linecap="round" stroke-linejoin="round"/><polyline points="220,435 285,492" fill="none" stroke="#58a890" stroke-width="18" stroke-linecap="round" stroke-linejoin="round"/><polyline points="345,425 435,468" fill="none" stroke="#0c2420" stroke-width="48" stroke-linecap="round" stroke-linejoin="round"/><polyline points="350,430 430,462" fill="none" stroke="#58a890" stroke-width="18" stroke-linecap="round" stroke-linejoin="round"/><polyline points="330,350 350,420" fill="none" stroke="#0c2420" stroke-width="34" stroke-linecap="round" stroke-linejoin="round"/><polyline points="270,360 260,420" fill="none" stroke="#0c2420" stroke-width="34" stroke-linecap="round" stroke-linejoin="round"/><polygon points="340,210 362,135 400,90 455,95 445,135 415,150 405,215" fill="#2c2080" stroke="#0c0c30" stroke-width="20" stroke-linejoin="round"/><polygon points="385,105 445,105 435,135 385,135" fill="#8444c8"/><polygon points="440,215 500,212 600,282 630,332 622,452 582,452 540,382 460,372 420,330" fill="#5a38a8" stroke="#0c0c30" stroke-width="20" stroke-linejoin="round"/><polygon points="500,285 600,305 612,440 590,440 545,372 490,340" fill="#c858c4"/><polygon points="520,300 580,315 570,360 530,345" fill="#e890e0"/><polygon points="130,255 200,192 330,205 440,215 460,300 440,372 380,400 200,362 122,332" fill="#2a2280" stroke="#0c0c30" stroke-width="20" stroke-linejoin="round"/><circle cx="212" cy="252" r="46" fill="#c85cc8"/><circle cx="200" cy="242" r="18" fill="#f0a8ec"/><polygon points="270,215 330,220 330,300 280,310" fill="#4468c0"/><circle cx="272" cy="222" r="14" fill="#4c88d8"/><circle cx="300" cy="282" r="14" fill="#4c88d8"/><rect x="335" y="225" width="65" height="110" fill="#18144c"/><polygon points="400,240 450,250 440,330 405,330" fill="#3c2c98"/></g></svg><a>天国荧光虫</a><svg class="pc" width="16" height="12" viewBox="0 0 16 12"><rect x="0.5" y="1.5" width="9.5" height="8" rx="1" fill="#f4f0ec" stroke="#8a8a8e" stroke-width="1"/><rect x="2" y="3" width="6.5" height="5" fill="#2f8de0"/><rect x="2" y="3" width="6.5" height="2" fill="#5aa8ec"/><rect x="3" y="10" width="5" height="1.6" fill="#77777b"/><rect x="10.5" y="0.5" width="5" height="11" rx="0.8" fill="#e8e8ea" stroke="#8a8a8e" stroke-width="1"/><rect x="11.5" y="2" width="3" height="1" fill="#a8a8ac"/><rect x="11.5" y="4" width="3" height="1" fill="#b8b0b8"/><rect x="10.4" y="8.5" width="5.4" height="3.3" fill="#3a3a3a"/><rect x="12.6" y="9.2" width="1.6" height="1.4" fill="#20e030"/></svg><svg class="pad" width="17" height="13" viewBox="0 0 17 13"><path d="M3.2 0.9 C4.6 0.1 5.9 0.6 6.6 1.9 L10.4 1.9 C11.1 0.6 12.4 0.1 13.8 0.9 C15.6 2.6 16.6 7.4 16.3 11 C16 12.7 14.4 12.8 13.6 11.6 L11.2 8.3 L5.8 8.3 L3.4 11.6 C2.6 12.8 1 12.7 0.7 11 C0.4 7.4 1.4 2.6 3.2 0.9 Z" fill="#d4d4d4" stroke="#7c7c7c" stroke-width="1.1"/><path d="M3 2.2 C3.8 1.6 4.8 1.7 5.4 2.4 M11.6 2.4 C12.2 1.7 13.2 1.6 14 2.2" stroke="#f4f4f4" stroke-width="0.9" fill="none"/><path d="M3.5 4.4h2.8M4.9 3v2.8" stroke="#5c5c5c" stroke-width="1.3" fill="none"/><circle cx="12.4" cy="4.4" r="1.45" fill="#f8f8f8" stroke="#6c6c6c" stroke-width="0.8"/><circle cx="6.4" cy="6.9" r="0.9" fill="#707070"/><circle cx="10.6" cy="6.9" r="0.9" fill="#707070"/><path d="M2.2 8.5 L3 10.8 M14.8 8.5 L14 10.8" stroke="#b4b4b4" stroke-width="0.9" fill="none"/></svg></div></td><td class="s"></td><td></td><td></td><td class="s"></td><td></td><td class="b"></td><td class="s"></td><td></td><td></td><td class="s"></td><td></td><td></td><td class="s"></td><td></td><td></td><td class="s"></td><td></td><td></td><td class="s"></td><td></td><td></td></tr>
<tr style="height:31px"><td class="n"><div class="w" style="height:31px"><svg class="sp drakin" width="40" height="26" viewBox="0 0 40 26"><g transform="translate(-4 -4) scale(0.06150)"><polyline points="165,125 182,165" fill="none" stroke="#38281c" stroke-width="34" stroke-linecap="round" stroke-linejoin="round"/><polyline points="218,105 240,160" fill="none" stroke="#38281c" stroke-width="34" stroke-linecap="round" stroke-linejoin="round"/><polyline points="312,108 285,160" fill="none" stroke="#38281c" stroke-width="34" stroke-linecap="round" stroke-linejoin="round"/><polyline points="170,130 180,155" fill="none" stroke="#8c7c68" stroke-width="12" stroke-linecap="round" stroke-linejoin="round"/><polyline points="305,118 290,150" fill="none" stroke="#8c7c68" stroke-width="12" stroke-linecap="round" stroke-linejoin="round"/><polyline points="392,150 380,190" fill="none" stroke="#38281c" stroke-width="30" stroke-linecap="round" stroke-linejoin="round"/><polyline points="440,185 432,215" fill="none" stroke="#50483c" stroke-width="28" stroke-linecap="round" stroke-linejoin="round"/><polyline points="500,228 500,250" fill="none" stroke="#38281c" stroke-width="26" stroke-linecap="round" stroke-linejoin="round"/><polyline points="572,270 572,290" fill="none" stroke="#38281c" stroke-width="24" stroke-linecap="round" stroke-linejoin="round"/><polyline points="632,284 632,300" fill="none" stroke="#50483c" stroke-width="22" stroke-linecap="round" stroke-linejoin="round"/><polyline points="688,296 688,312" fill="none" stroke="#38281c" stroke-width="20" stroke-linecap="round" stroke-linejoin="round"/><polygon points="95,280 200,275 215,310 170,345 110,345 88,320" fill="#c4ac88" stroke="#2c1800" stroke-width="20" stroke-linejoin="round"/><polygon points="72,182 150,162 350,182 420,202 520,262 700,322 715,352 600,345 522,372 492,420 520,470 345,480 372,400 362,335 300,295 285,340 225,345 240,302 182,262 130,262 82,242" fill="#c4881a" stroke="#2c1800" stroke-width="20" stroke-linejoin="round"/><polygon points="380,220 520,280 640,330 520,340 420,300" fill="#dca030"/><polygon points="370,330 440,330 470,420 400,440" fill="#8c5c10"/><polygon points="150,175 340,195 330,240 180,240" fill="#d49a28"/><rect x="362" y="300" width="33" height="50" fill="#d4c4a8"/><circle cx="190" cy="186" r="16" fill="#d020e8"/><circle cx="108" cy="205" r="14" fill="#8020a0"/><circle cx="135" cy="252" r="14" fill="#8020a0"/><circle cx="250" cy="212" r="14" fill="#3030a4"/><circle cx="295" cy="197" r="14" fill="#3030a4"/><circle cx="332" cy="217" r="12" fill="#3030a4"/><rect x="298" y="450" width="37" height="32" fill="#505860"/><rect x="222" y="345" width="40" height="27" fill="#404850"/></g></svg><a>德拉克龙</a><svg class="pc" width="16" height="12" viewBox="0 0 16 12"><rect x="0.5" y="1.5" width="9.5" height="8" rx="1" fill="#f4f0ec" stroke="#8a8a8e" stroke-width="1"/><rect x="2" y="3" width="6.5" height="5" fill="#2f8de0"/><rect x="2" y="3" width="6.5" height="2" fill="#5aa8ec"/><rect x="3" y="10" width="5" height="1.6" fill="#77777b"/><rect x="10.5" y="0.5" width="5" height="11" rx="0.8" fill="#e8e8ea" stroke="#8a8a8e" stroke-width="1"/><rect x="11.5" y="2" width="3" height="1" fill="#a8a8ac"/><rect x="11.5" y="4" width="3" height="1" fill="#b8b0b8"/><rect x="10.4" y="8.5" width="5.4" height="3.3" fill="#3a3a3a"/><rect x="12.6" y="9.2" width="1.6" height="1.4" fill="#20e030"/></svg><svg class="pad" width="17" height="13" viewBox="0 0 17 13"><path d="M3.2 0.9 C4.6 0.1 5.9 0.6 6.6 1.9 L10.4 1.9 C11.1 0.6 12.4 0.1 13.8 0.9 C15.6 2.6 16.6 7.4 16.3 11 C16 12.7 14.4 12.8 13.6 11.6 L11.2 8.3 L5.8 8.3 L3.4 11.6 C2.6 12.8 1 12.7 0.7 11 C0.4 7.4 1.4 2.6 3.2 0.9 Z" fill="#d4d4d4" stroke="#7c7c7c" stroke-width="1.1"/><path d="M3 2.2 C3.8 1.6 4.8 1.7 5.4 2.4 M11.6 2.4 C12.2 1.7 13.2 1.6 14 2.2" stroke="#f4f4f4" stroke-width="0.9" fill="none"/><path d="M3.5 4.4h2.8M4.9 3v2.8" stroke="#5c5c5c" stroke-width="1.3" fill="none"/><circle cx="12.4" cy="4.4" r="1.45" fill="#f8f8f8" stroke="#6c6c6c" stroke-width="0.8"/><circle cx="6.4" cy="6.9" r="0.9" fill="#707070"/><circle cx="10.6" cy="6.9" r="0.9" fill="#707070"/><path d="M2.2 8.5 L3 10.8 M14.8 8.5 L14 10.8" stroke="#b4b4b4" stroke-width="0.9" fill="none"/></svg></div></td><td class="s"></td><td></td><td></td><td class="s"></td><td></td><td></td><td class="s"></td><td></td><td class="b"></td><td class="s"></td><td class="g"></td><td class="b"></td><td class="s"></td><td class="g"></td><td class="b"></td><td class="s"></td><td class="g"></td><td class="b"></td><td class="s"></td><td class="g"></td><td class="b"></td></tr>
<tr style="height:31px"><td class="n"><div class="w" style="height:31px"><svg class="sp glider" width="40" height="25" viewBox="0 0 40 25"><g transform="translate(-4 -6) scale(0.06154)"><polyline points="120,102 150,160" fill="none" stroke="#c01830" stroke-width="20" stroke-linecap="round" stroke-linejoin="round"/><circle cx="198" cy="182" r="46" fill="#c01830" stroke="#500810" stroke-width="18"/><polygon points="185,195 380,138 540,135 522,172 440,212 440,282 700,215 715,252 640,302 452,332 382,382 352,430 400,470 232,480 222,400 182,300" fill="#7c4820" stroke="#2c1404" stroke-width="20" stroke-linejoin="round"/><polygon points="300,175 520,150 500,165 330,215" fill="#3c1c08"/><polygon points="240,240 400,205 420,250 260,300" fill="#d0b080"/><polygon points="520,265 690,230 680,255 540,300" fill="#c89c60"/><rect x="380" y="232" width="52" height="50" fill="#c01830"/><rect x="440" y="310" width="62" height="42" fill="#a4a4d4"/><polygon points="72,352 132,292 232,282 302,352 292,442 202,482 152,482 152,402 102,402" fill="#889040" stroke="#1c2000" stroke-width="20" stroke-linejoin="round"/><polygon points="100,340 200,310 220,360 120,370" fill="#b4bc64"/><rect x="160" y="400" width="40" height="70" fill="#b4bc64"/><polygon points="490,342 550,345 550,412 510,405" fill="#889040" stroke="#1c2000" stroke-width="18" stroke-linejoin="round"/><rect x="230" y="440" width="160" height="38" fill="#6c3c14"/><rect x="210" y="395" width="60" height="45" fill="#f0f0f0"/></g></svg><a>小妖魔滑翔怪</a><svg class="pc" width="16" height="12" viewBox="0 0 16 12"><rect x="0.5" y="1.5" width="9.5" height="8" rx="1" fill="#f4f0ec" stroke="#8a8a8e" stroke-width="1"/><rect x="2" y="3" width="6.5" height="5" fill="#2f8de0"/><rect x="2" y="3" width="6.5" height="2" fill="#5aa8ec"/><rect x="3" y="10" width="5" height="1.6" fill="#77777b"/><rect x="10.5" y="0.5" width="5" height="11" rx="0.8" fill="#e8e8ea" stroke="#8a8a8e" stroke-width="1"/><rect x="11.5" y="2" width="3" height="1" fill="#a8a8ac"/><rect x="11.5" y="4" width="3" height="1" fill="#b8b0b8"/><rect x="10.4" y="8.5" width="5.4" height="3.3" fill="#3a3a3a"/><rect x="12.6" y="9.2" width="1.6" height="1.4" fill="#20e030"/></svg><svg class="pad" width="17" height="13" viewBox="0 0 17 13"><path d="M3.2 0.9 C4.6 0.1 5.9 0.6 6.6 1.9 L10.4 1.9 C11.1 0.6 12.4 0.1 13.8 0.9 C15.6 2.6 16.6 7.4 16.3 11 C16 12.7 14.4 12.8 13.6 11.6 L11.2 8.3 L5.8 8.3 L3.4 11.6 C2.6 12.8 1 12.7 0.7 11 C0.4 7.4 1.4 2.6 3.2 0.9 Z" fill="#d4d4d4" stroke="#7c7c7c" stroke-width="1.1"/><path d="M3 2.2 C3.8 1.6 4.8 1.7 5.4 2.4 M11.6 2.4 C12.2 1.7 13.2 1.6 14 2.2" stroke="#f4f4f4" stroke-width="0.9" fill="none"/><path d="M3.5 4.4h2.8M4.9 3v2.8" stroke="#5c5c5c" stroke-width="1.3" fill="none"/><circle cx="12.4" cy="4.4" r="1.45" fill="#f8f8f8" stroke="#6c6c6c" stroke-width="0.8"/><circle cx="6.4" cy="6.9" r="0.9" fill="#707070"/><circle cx="10.6" cy="6.9" r="0.9" fill="#707070"/><path d="M2.2 8.5 L3 10.8 M14.8 8.5 L14 10.8" stroke="#b4b4b4" stroke-width="0.9" fill="none"/></svg></div></td><td class="s"></td><td></td><td></td><td class="s"></td><td></td><td></td><td class="s"></td><td></td><td></td><td class="s"></td><td></td><td class="b"></td><td class="s"></td><td class="g"></td><td class="b"></td><td class="s"></td><td class="g"></td><td></td><td class="s"></td><td class="g"></td><td></td></tr>
<tr style="height:34px"><td class="n"><div class="w" style="height:34px"><svg class="sp wither" width="35" height="28" viewBox="0 0 35 28"><g transform="translate(-6 -4) scale(0.06150)"><polygon points="540,330 600,350 662,405 640,425 560,410" fill="#6c50b8" stroke="#1c0c34" stroke-width="18" stroke-linejoin="round"/><polygon points="240,410 340,410 345,500 240,500 228,460" fill="#5c44a8" stroke="#1c0c34" stroke-width="20" stroke-linejoin="round"/><polygon points="450,420 575,420 585,512 460,512 440,470" fill="#6c54b8" stroke="#1c0c34" stroke-width="20" stroke-linejoin="round"/><rect x="270" y="440" width="50" height="40" fill="#8c74d0"/><rect x="480" y="450" width="60" height="40" fill="#9c84dc"/><polygon points="135,345 182,275 300,255 450,255 560,325 590,400 520,440 400,445 300,440 232,442 162,412" fill="#6c50b8" stroke="#1c0c34" stroke-width="20" stroke-linejoin="round"/><polygon points="320,285 430,290 450,370 360,400 300,360" fill="#a48ce4"/><polygon points="160,340 250,300 280,350 200,390" fill="#8468cc"/><polygon points="460,330 550,345 560,400 480,410" fill="#5840a0"/><rect x="352" y="302" width="28" height="28" fill="#e040c8"/><rect x="312" y="420" width="28" height="20" fill="#e040c8"/><rect x="396" y="312" width="20" height="20" fill="#f8d0f4"/><rect x="300" y="340" width="25" height="25" fill="#3c2878"/><rect x="420" y="390" width="25" height="25" fill="#3c2878"/><polyline points="150,370 235,362" fill="none" stroke="#1c0c34" stroke-width="16" stroke-linecap="round" stroke-linejoin="round"/><rect x="200" y="310" width="32" height="25" fill="#1c0c34"/><polygon points="102,218 150,245 182,300 140,310 112,270" fill="#e060d0" stroke="#400840" stroke-width="16" stroke-linejoin="round"/><polygon points="205,258 192,192 240,150 300,82 402,70 422,130 482,162 505,222 562,282 545,312 452,258 300,258" fill="#a81ca8" stroke="#38063c" stroke-width="20" stroke-linejoin="round"/><polygon points="310,98 385,90 370,160 320,170" fill="#f08cf0"/><polygon points="222,188 290,172 282,232 222,242" fill="#e050dc"/><polygon points="400,172 462,182 472,240 410,238" fill="#d844d0"/><polygon points="500,262 545,278 540,302 505,292" fill="#f0a0e8"/><polyline points="296,170 306,252" fill="none" stroke="#500c54" stroke-width="14" stroke-linecap="round" stroke-linejoin="round"/><polyline points="392,165 392,252" fill="none" stroke="#500c54" stroke-width="14" stroke-linecap="round" stroke-linejoin="round"/><polyline points="200,250 540,262" fill="none" stroke="#500c54" stroke-width="12" stroke-linecap="round" stroke-linejoin="round"/></g></svg><a>枯萎兽</a><svg class="pc" width="16" height="12" viewBox="0 0 16 12"><rect x="0.5" y="1.5" width="9.5" height="8" rx="1" fill="#f4f0ec" stroke="#8a8a8e" stroke-width="1"/><rect x="2" y="3" width="6.5" height="5" fill="#2f8de0"/><rect x="2" y="3" width="6.5" height="2" fill="#5aa8ec"/><rect x="3" y="10" width="5" height="1.6" fill="#77777b"/><rect x="10.5" y="0.5" width="5" height="11" rx="0.8" fill="#e8e8ea" stroke="#8a8a8e" stroke-width="1"/><rect x="11.5" y="2" width="3" height="1" fill="#a8a8ac"/><rect x="11.5" y="4" width="3" height="1" fill="#b8b0b8"/><rect x="10.4" y="8.5" width="5.4" height="3.3" fill="#3a3a3a"/><rect x="12.6" y="9.2" width="1.6" height="1.4" fill="#20e030"/></svg><svg class="pad" width="17" height="13" viewBox="0 0 17 13"><path d="M3.2 0.9 C4.6 0.1 5.9 0.6 6.6 1.9 L10.4 1.9 C11.1 0.6 12.4 0.1 13.8 0.9 C15.6 2.6 16.6 7.4 16.3 11 C16 12.7 14.4 12.8 13.6 11.6 L11.2 8.3 L5.8 8.3 L3.4 11.6 C2.6 12.8 1 12.7 0.7 11 C0.4 7.4 1.4 2.6 3.2 0.9 Z" fill="#d4d4d4" stroke="#7c7c7c" stroke-width="1.1"/><path d="M3 2.2 C3.8 1.6 4.8 1.7 5.4 2.4 M11.6 2.4 C12.2 1.7 13.2 1.6 14 2.2" stroke="#f4f4f4" stroke-width="0.9" fill="none"/><path d="M3.5 4.4h2.8M4.9 3v2.8" stroke="#5c5c5c" stroke-width="1.3" fill="none"/><circle cx="12.4" cy="4.4" r="1.45" fill="#f8f8f8" stroke="#6c6c6c" stroke-width="0.8"/><circle cx="6.4" cy="6.9" r="0.9" fill="#707070"/><circle cx="10.6" cy="6.9" r="0.9" fill="#707070"/><path d="M2.2 8.5 L3 10.8 M14.8 8.5 L14 10.8" stroke="#b4b4b4" stroke-width="0.9" fill="none"/></svg></div></td><td class="s"></td><td></td><td></td><td class="s"></td><td></td><td></td><td class="s"></td><td></td><td></td><td class="s"></td><td></td><td></td><td class="s"></td><td></td><td class="b"></td><td class="s"></td><td class="g"></td><td class="b"></td><td class="s"></td><td class="g"></td><td class="b"></td></tr>
<tr style="height:36px"><td class="n"><div class="w" style="height:36px"><svg class="sp ogre" width="35" height="30" viewBox="0 0 35 30"><g transform="translate(-6 -4) scale(0.06498)"><polygon points="105,315 150,312 312,385 315,432 105,432 95,375" fill="#84502c" stroke="#341808" stroke-width="14" stroke-linejoin="round"/><polygon points="115,335 290,395 125,385" fill="#b4845c"/><polygon points="110,400 300,415 300,425 110,425" fill="#5c3018"/><polygon points="540,120 592,202 632,302 622,402 585,455 548,405 530,300" fill="#4468a8" stroke="#14203c" stroke-width="14" stroke-linejoin="round"/><polygon points="570,230 615,310 608,395 585,425 568,380" fill="#6c98c8"/><polygon points="330,410 545,405 545,512 322,515 322,445" fill="#34508c" stroke="#14203c" stroke-width="14" stroke-linejoin="round"/><polygon points="350,430 430,430 430,480 350,480" fill="#5c90bc"/><rect x="470" y="425" width="60" height="55" fill="#44689c"/><rect x="322" y="480" width="226" height="38" fill="#5c3018" stroke="#14203c" stroke-width="8"/><rect x="440" y="468" width="42" height="24" fill="#f4f4f4"/><polygon points="345,225 460,180 545,210 560,300 545,410 330,412 335,300" fill="#4c84b0" stroke="#14203c" stroke-width="14" stroke-linejoin="round"/><polygon points="350,300 450,290 462,372 352,382" fill="#8cc8dc"/><polygon points="470,260 548,290 545,380 480,380" fill="#3c64a0"/><polygon points="430,85 545,112 590,200 560,250 470,250 420,180" fill="#5c98c0" stroke="#14203c" stroke-width="14" stroke-linejoin="round"/><polygon points="450,105 530,130 565,205 490,235 440,175" fill="#8cd0e0"/><polyline points="368,242 488,336" fill="none" stroke="#241408" stroke-width="46" stroke-linecap="butt" stroke-linejoin="round"/><polyline points="372,245 482,332" fill="none" stroke="#744420" stroke-width="30" stroke-linecap="butt" stroke-linejoin="round"/><polyline points="556,232 612,278" fill="none" stroke="#241408" stroke-width="40" stroke-linecap="butt" stroke-linejoin="round"/><polyline points="560,235 610,275" fill="none" stroke="#744420" stroke-width="24" stroke-linecap="butt" stroke-linejoin="round"/><rect x="372" y="380" width="150" height="42" fill="#3c8420" stroke="#14203c" stroke-width="6"/><polygon points="292,145 332,75 442,72 452,130 430,200 385,232 292,212 282,180" fill="#5c98c4" stroke="#14203c" stroke-width="14" stroke-linejoin="round"/><polygon points="300,150 380,142 390,200 300,205" fill="#3c5cac"/><polygon points="332,70 442,72 432,105 340,100" fill="#6c3c1c"/><polygon points="390,110 440,110 430,190 395,200" fill="#84c4dc"/><rect x="335" y="115" width="25" height="20" fill="#f0f0f0"/><rect x="300" y="185" width="50" height="15" fill="#1c2c5c"/></g></svg><a>食人魔</a><svg class="pc" width="16" height="12" viewBox="0 0 16 12"><rect x="0.5" y="1.5" width="9.5" height="8" rx="1" fill="#f4f0ec" stroke="#8a8a8e" stroke-width="1"/><rect x="2" y="3" width="6.5" height="5" fill="#2f8de0"/><rect x="2" y="3" width="6.5" height="2" fill="#5aa8ec"/><rect x="3" y="10" width="5" height="1.6" fill="#77777b"/><rect x="10.5" y="0.5" width="5" height="11" rx="0.8" fill="#e8e8ea" stroke="#8a8a8e" stroke-width="1"/><rect x="11.5" y="2" width="3" height="1" fill="#a8a8ac"/><rect x="11.5" y="4" width="3" height="1" fill="#b8b0b8"/><rect x="10.4" y="8.5" width="5.4" height="3.3" fill="#3a3a3a"/><rect x="12.6" y="9.2" width="1.6" height="1.4" fill="#20e030"/></svg><svg class="pad" width="17" height="13" viewBox="0 0 17 13"><path d="M3.2 0.9 C4.6 0.1 5.9 0.6 6.6 1.9 L10.4 1.9 C11.1 0.6 12.4 0.1 13.8 0.9 C15.6 2.6 16.6 7.4 16.3 11 C16 12.7 14.4 12.8 13.6 11.6 L11.2 8.3 L5.8 8.3 L3.4 11.6 C2.6 12.8 1 12.7 0.7 11 C0.4 7.4 1.4 2.6 3.2 0.9 Z" fill="#d4d4d4" stroke="#7c7c7c" stroke-width="1.1"/><path d="M3 2.2 C3.8 1.6 4.8 1.7 5.4 2.4 M11.6 2.4 C12.2 1.7 13.2 1.6 14 2.2" stroke="#f4f4f4" stroke-width="0.9" fill="none"/><path d="M3.5 4.4h2.8M4.9 3v2.8" stroke="#5c5c5c" stroke-width="1.3" fill="none"/><circle cx="12.4" cy="4.4" r="1.45" fill="#f8f8f8" stroke="#6c6c6c" stroke-width="0.8"/><circle cx="6.4" cy="6.9" r="0.9" fill="#707070"/><circle cx="10.6" cy="6.9" r="0.9" fill="#707070"/><path d="M2.2 8.5 L3 10.8 M14.8 8.5 L14 10.8" stroke="#b4b4b4" stroke-width="0.9" fill="none"/></svg></div></td><td class="s"></td><td></td><td></td><td class="s"></td><td></td><td></td><td class="s"></td><td></td><td></td><td class="s"></td><td></td><td></td><td class="s"></td><td></td><td class="b"></td><td class="s"></td><td></td><td class="b"></td><td class="s"></td><td class="g"></td><td></td></tr>
<tr style="height:35px"><td class="n"><div class="w" style="height:35px"><svg class="sp betsy" width="55" height="29" viewBox="0 0 55 29"><g transform="translate(-5 -4) scale(0.06680)"><path d="M630 265 C 690 330, 780 352, 840 335 C 882 320, 882 258, 845 243 C 815 236, 798 262, 815 282" fill="none" stroke="#2c0838" stroke-width="36" stroke-linecap="round"/><path d="M630 265 C 690 330, 780 352, 840 335 C 882 320, 882 258, 845 243 C 815 236, 798 262, 815 282" fill="none" stroke="#7c2c94" stroke-width="20" stroke-linecap="round"/><path d="M680 330 L690 365 M730 345 L735 378 M785 350 L790 380 M835 342 L850 370" stroke="#5c1c70" stroke-width="12" fill="none"/><polygon points="82,92 250,66 342,102 330,205 290,250 262,232 220,275 190,240 142,272 125,215 100,205" fill="#74349a" stroke="#8c1424" stroke-width="14" stroke-linejoin="round"/><polygon points="110,105 240,85 300,120 200,150 120,160" fill="#9458b4"/><polyline points="330,130 100,110" fill="none" stroke="#a01828" stroke-width="12" stroke-linecap="round" stroke-linejoin="round"/><polyline points="330,140 110,200" fill="none" stroke="#a01828" stroke-width="12" stroke-linecap="round" stroke-linejoin="round"/><polyline points="330,150 150,262" fill="none" stroke="#a01828" stroke-width="12" stroke-linecap="round" stroke-linejoin="round"/><polyline points="332,160 225,268" fill="none" stroke="#a01828" stroke-width="12" stroke-linecap="round" stroke-linejoin="round"/><polygon points="402,112 640,96 892,152 882,192 800,200 700,232 600,215 562,224 482,202" fill="#74349a" stroke="#8c1424" stroke-width="14" stroke-linejoin="round"/><polygon points="470,125 640,112 820,150 700,165 520,160" fill="#9458b4"/><polyline points="420,130 870,160" fill="none" stroke="#a01828" stroke-width="12" stroke-linecap="round" stroke-linejoin="round"/><polyline points="440,160 860,185" fill="none" stroke="#a01828" stroke-width="10" stroke-linecap="round" stroke-linejoin="round"/><polyline points="470,185 700,222" fill="none" stroke="#a01828" stroke-width="10" stroke-linecap="round" stroke-linejoin="round"/><polygon points="540,330 640,300 665,340 700,440 690,485 565,490 560,450 600,420 545,390" fill="#841820" stroke="#38060c" stroke-width="14" stroke-linejoin="round"/><polygon points="580,340 630,330 660,420 620,430" fill="#b83038"/><rect x="590" y="445" width="32" height="27" fill="#f0d8d0"/><rect x="650" y="450" width="30" height="25" fill="#e8c8b8"/><polygon points="330,130 400,150 482,202 640,252 662,332 560,350 482,342 402,302 340,320 300,260 300,180" fill="#981c28" stroke="#38060c" stroke-width="14" stroke-linejoin="round"/><polygon points="420,225 600,268 620,330 500,318 430,280" fill="#c43c44"/><polygon points="330,150 390,170 400,260 330,250" fill="#6c1018"/><polygon points="262,95 300,80 350,95 360,150 330,200 280,190 255,140" fill="#8c1820" stroke="#38060c" stroke-width="14" stroke-linejoin="round"/><rect x="285" y="100" width="35" height="25" fill="#f0d0a0"/><rect x="330" y="108" width="32" height="22" fill="#c86c20"/><polyline points="300,70 290,40" fill="none" stroke="#500c14" stroke-width="14" stroke-linecap="round" stroke-linejoin="round"/><polyline points="340,78 350,48" fill="none" stroke="#500c14" stroke-width="14" stroke-linecap="round" stroke-linejoin="round"/><polygon points="362,170 402,165 402,235 365,228" fill="#10985c"/><polygon points="240,270 330,250 350,320 300,370 250,390 228,350" fill="#901c24" stroke="#38060c" stroke-width="14" stroke-linejoin="round"/><polyline points="210,330 200,385" fill="none" stroke="#7c3c9c" stroke-width="22" stroke-linecap="round" stroke-linejoin="round"/><polyline points="320,372 380,318" fill="none" stroke="#6c2080" stroke-width="24" stroke-linecap="round" stroke-linejoin="round"/><polyline points="250,395 280,360" fill="none" stroke="#6c2080" stroke-width="18" stroke-linecap="round" stroke-linejoin="round"/><rect x="300" y="255" width="35" height="30" fill="#f0b020"/><ellipse cx="440" cy="326" rx="52" ry="36" fill="#e86810"/><ellipse cx="432" cy="320" rx="34" ry="24" fill="#f8c828"/><ellipse cx="420" cy="316" rx="14" ry="10" fill="#fff0a0"/></g></svg><a>双足翼龙</a><svg class="pc" width="16" height="12" viewBox="0 0 16 12"><rect x="0.5" y="1.5" width="9.5" height="8" rx="1" fill="#f4f0ec" stroke="#8a8a8e" stroke-width="1"/><rect x="2" y="3" width="6.5" height="5" fill="#2f8de0"/><rect x="2" y="3" width="6.5" height="2" fill="#5aa8ec"/><rect x="3" y="10" width="5" height="1.6" fill="#77777b"/><rect x="10.5" y="0.5" width="5" height="11" rx="0.8" fill="#e8e8ea" stroke="#8a8a8e" stroke-width="1"/><rect x="11.5" y="2" width="3" height="1" fill="#a8a8ac"/><rect x="11.5" y="4" width="3" height="1" fill="#b8b0b8"/><rect x="10.4" y="8.5" width="5.4" height="3.3" fill="#3a3a3a"/><rect x="12.6" y="9.2" width="1.6" height="1.4" fill="#20e030"/></svg><svg class="pad" width="17" height="13" viewBox="0 0 17 13"><path d="M3.2 0.9 C4.6 0.1 5.9 0.6 6.6 1.9 L10.4 1.9 C11.1 0.6 12.4 0.1 13.8 0.9 C15.6 2.6 16.6 7.4 16.3 11 C16 12.7 14.4 12.8 13.6 11.6 L11.2 8.3 L5.8 8.3 L3.4 11.6 C2.6 12.8 1 12.7 0.7 11 C0.4 7.4 1.4 2.6 3.2 0.9 Z" fill="#d4d4d4" stroke="#7c7c7c" stroke-width="1.1"/><path d="M3 2.2 C3.8 1.6 4.8 1.7 5.4 2.4 M11.6 2.4 C12.2 1.7 13.2 1.6 14 2.2" stroke="#f4f4f4" stroke-width="0.9" fill="none"/><path d="M3.5 4.4h2.8M4.9 3v2.8" stroke="#5c5c5c" stroke-width="1.3" fill="none"/><circle cx="12.4" cy="4.4" r="1.45" fill="#f8f8f8" stroke="#6c6c6c" stroke-width="0.8"/><circle cx="6.4" cy="6.9" r="0.9" fill="#707070"/><circle cx="10.6" cy="6.9" r="0.9" fill="#707070"/><path d="M2.2 8.5 L3 10.8 M14.8 8.5 L14 10.8" stroke="#b4b4b4" stroke-width="0.9" fill="none"/></svg></div></td><td class="s"></td><td></td><td></td><td class="s"></td><td></td><td></td><td class="s"></td><td></td><td></td><td class="s"></td><td></td><td></td><td class="s"></td><td></td><td></td><td class="s"></td><td></td><td></td><td class="s"></td><td></td><td class="b"></td></tr>
<tr style="height:29px"><td class="n"><div class="w" style="height:29px"><svg class="sp mana" width="14" height="20" viewBox="0 0 14 20" shape-rendering="crispEdges"><rect x="6" y="0" width="2" height="2" fill="#06140a"/><rect x="4" y="2" width="2" height="2" fill="#06140a"/><rect x="6" y="2" width="2" height="2" fill="#e8fcec"/><rect x="8" y="2" width="2" height="2" fill="#06140a"/><rect x="2" y="4" width="2" height="2" fill="#06140a"/><rect x="4" y="4" width="2" height="2" fill="#3ccc50"/><rect x="6" y="4" width="2" height="2" fill="#e8fcec"/><rect x="8" y="4" width="2" height="2" fill="#28b03c"/><rect x="10" y="4" width="2" height="2" fill="#06140a"/><rect x="2" y="6" width="2" height="2" fill="#06140a"/><rect x="4" y="6" width="2" height="2" fill="#3ccc50"/><rect x="6" y="6" width="2" height="2" fill="#e8fcec"/><rect x="8" y="6" width="2" height="2" fill="#28b03c"/><rect x="10" y="6" width="2" height="2" fill="#06140a"/><rect x="0" y="8" width="2" height="2" fill="#06140a"/><rect x="2" y="8" width="2" height="2" fill="#8cec98"/><rect x="4" y="8" width="2" height="2" fill="#3ccc50"/><rect x="6" y="8" width="2" height="2" fill="#e8fcec"/><rect x="8" y="8" width="2" height="2" fill="#28b03c"/><rect x="10" y="8" width="2" height="2" fill="#8cec98"/><rect x="12" y="8" width="2" height="2" fill="#06140a"/><rect x="0" y="10" width="2" height="2" fill="#06140a"/><rect x="2" y="10" width="2" height="2" fill="#3ccc50"/><rect x="4" y="10" width="4" height="2" fill="#8cec98"/><rect x="8" y="10" width="4" height="2" fill="#28b03c"/><rect x="12" y="10" width="2" height="2" fill="#06140a"/><rect x="2" y="12" width="2" height="2" fill="#06140a"/><rect x="4" y="12" width="2" height="2" fill="#128028"/><rect x="6" y="12" width="2" height="2" fill="#3ccc50"/><rect x="8" y="12" width="2" height="2" fill="#128028"/><rect x="10" y="12" width="2" height="2" fill="#06140a"/><rect x="2" y="14" width="2" height="2" fill="#06140a"/><rect x="4" y="14" width="4" height="2" fill="#3ccc50"/><rect x="8" y="14" width="2" height="2" fill="#128028"/><rect x="10" y="14" width="2" height="2" fill="#06140a"/><rect x="4" y="16" width="2" height="2" fill="#06140a"/><rect x="6" y="16" width="2" height="2" fill="#3ccc50"/><rect x="8" y="16" width="2" height="2" fill="#06140a"/><rect x="6" y="18" width="2" height="2" fill="#06140a"/></svg><a>天国魔力</a><svg class="pc" width="16" height="12" viewBox="0 0 16 12"><rect x="0.5" y="1.5" width="9.5" height="8" rx="1" fill="#f4f0ec" stroke="#8a8a8e" stroke-width="1"/><rect x="2" y="3" width="6.5" height="5" fill="#2f8de0"/><rect x="2" y="3" width="6.5" height="2" fill="#5aa8ec"/><rect x="3" y="10" width="5" height="1.6" fill="#77777b"/><rect x="10.5" y="0.5" width="5" height="11" rx="0.8" fill="#e8e8ea" stroke="#8a8a8e" stroke-width="1"/><rect x="11.5" y="2" width="3" height="1" fill="#a8a8ac"/><rect x="11.5" y="4" width="3" height="1" fill="#b8b0b8"/><rect x="10.4" y="8.5" width="5.4" height="3.3" fill="#3a3a3a"/><rect x="12.6" y="9.2" width="1.6" height="1.4" fill="#20e030"/></svg><svg class="pad" width="17" height="13" viewBox="0 0 17 13"><path d="M3.2 0.9 C4.6 0.1 5.9 0.6 6.6 1.9 L10.4 1.9 C11.1 0.6 12.4 0.1 13.8 0.9 C15.6 2.6 16.6 7.4 16.3 11 C16 12.7 14.4 12.8 13.6 11.6 L11.2 8.3 L5.8 8.3 L3.4 11.6 C2.6 12.8 1 12.7 0.7 11 C0.4 7.4 1.4 2.6 3.2 0.9 Z" fill="#d4d4d4" stroke="#7c7c7c" stroke-width="1.1"/><path d="M3 2.2 C3.8 1.6 4.8 1.7 5.4 2.4 M11.6 2.4 C12.2 1.7 13.2 1.6 14 2.2" stroke="#f4f4f4" stroke-width="0.9" fill="none"/><path d="M3.5 4.4h2.8M4.9 3v2.8" stroke="#5c5c5c" stroke-width="1.3" fill="none"/><circle cx="12.4" cy="4.4" r="1.45" fill="#f8f8f8" stroke="#6c6c6c" stroke-width="0.8"/><circle cx="6.4" cy="6.9" r="0.9" fill="#707070"/><circle cx="10.6" cy="6.9" r="0.9" fill="#707070"/><path d="M2.2 8.5 L3 10.8 M14.8 8.5 L14 10.8" stroke="#b4b4b4" stroke-width="0.9" fill="none"/></svg><span class="t">奖励</span></div></td><td class="s r">20</td><td class="g">20</td><td class="b"></td><td class="s r">20</td><td class="g">20</td><td class="b"></td><td class="s r">20</td><td class="g">20</td><td></td><td class="s r">30</td><td class="g">20</td><td></td><td class="s r">40</td><td class="g">20</td><td></td><td class="s"></td><td class="g">30</td><td></td><td class="s"></td><td class="g">30</td><td class="b"><abbr>0</abbr></td></tr>
<tr style="height:34px"><td class="n"><div class="w" style="height:34px"><svg class="sp medal" width="28" height="28" viewBox="0 0 28 28" shape-rendering="crispEdges"><rect x="10" y="0" width="8" height="2" fill="#1c0406"/><rect x="6" y="2" width="4" height="2" fill="#1c0406"/><rect x="10" y="2" width="4" height="2" fill="#e0506c"/><rect x="14" y="2" width="4" height="2" fill="#f8a8b0"/><rect x="18" y="2" width="4" height="2" fill="#1c0406"/><rect x="4" y="4" width="2" height="2" fill="#1c0406"/><rect x="6" y="4" width="4" height="2" fill="#e0506c"/><rect x="10" y="4" width="8" height="2" fill="#6c6458"/><rect x="18" y="4" width="4" height="2" fill="#f8a8b0"/><rect x="22" y="4" width="2" height="2" fill="#1c0406"/><rect x="2" y="6" width="2" height="2" fill="#1c0406"/><rect x="4" y="6" width="2" height="2" fill="#e0506c"/><rect x="6" y="6" width="4" height="2" fill="#6c6458"/><rect x="10" y="6" width="8" height="2" fill="#8c5410"/><rect x="18" y="6" width="4" height="2" fill="#6c6458"/><rect x="22" y="6" width="2" height="2" fill="#e0506c"/><rect x="24" y="6" width="2" height="2" fill="#1c0406"/><rect x="2" y="8" width="2" height="2" fill="#1c0406"/><rect x="4" y="8" width="2" height="2" fill="#e0506c"/><rect x="6" y="8" width="2" height="2" fill="#6c6458"/><rect x="8" y="8" width="2" height="2" fill="#8c5410"/><rect x="10" y="8" width="4" height="2" fill="#f4cc20"/><rect x="14" y="8" width="2" height="2" fill="#fff8d8"/><rect x="16" y="8" width="2" height="2" fill="#f4cc20"/><rect x="18" y="8" width="2" height="2" fill="#8c5410"/><rect x="20" y="8" width="2" height="2" fill="#6c6458"/><rect x="22" y="8" width="2" height="2" fill="#e0506c"/><rect x="24" y="8" width="2" height="2" fill="#1c0406"/><rect x="0" y="10" width="2" height="2" fill="#1c0406"/><rect x="2" y="10" width="2" height="2" fill="#d04058"/><rect x="4" y="10" width="2" height="2" fill="#6c6458"/><rect x="6" y="10" width="2" height="2" fill="#8c5410"/><rect x="8" y="10" width="4" height="2" fill="#f4cc20"/><rect x="12" y="10" width="2" height="2" fill="#8c5410"/><rect x="14" y="10" width="2" height="2" fill="#3c1000"/><rect x="16" y="10" width="4" height="2" fill="#f4cc20"/><rect x="20" y="10" width="2" height="2" fill="#8c5410"/><rect x="22" y="10" width="2" height="2" fill="#6c6458"/><rect x="24" y="10" width="2" height="2" fill="#d04058"/><rect x="26" y="10" width="2" height="2" fill="#1c0406"/><rect x="0" y="12" width="2" height="2" fill="#1c0406"/><rect x="2" y="12" width="2" height="2" fill="#d04058"/><rect x="4" y="12" width="2" height="2" fill="#6c6458"/><rect x="6" y="12" width="2" height="2" fill="#f4cc20"/><rect x="8" y="12" width="2" height="2" fill="#fff8d8"/><rect x="10" y="12" width="4" height="2" fill="#8c5410"/><rect x="14" y="12" width="2" height="2" fill="#f4cc20"/><rect x="16" y="12" width="2" height="2" fill="#8c5410"/><rect x="18" y="12" width="2" height="2" fill="#f4cc20"/><rect x="20" y="12" width="2" height="2" fill="#8c5410"/><rect x="22" y="12" width="2" height="2" fill="#6c6458"/><rect x="24" y="12" width="2" height="2" fill="#d04058"/><rect x="26" y="12" width="2" height="2" fill="#1c0406"/><rect x="0" y="14" width="2" height="2" fill="#1c0406"/><rect x="2" y="14" width="2" height="2" fill="#d04058"/><rect x="4" y="14" width="2" height="2" fill="#6c6458"/><rect x="6" y="14" width="2" height="2" fill="#8c5410"/><rect x="8" y="14" width="2" height="2" fill="#f4cc20"/><rect x="10" y="14" width="2" height="2" fill="#8c5410"/><rect x="12" y="14" width="4" height="2" fill="#f4cc20"/><rect x="16" y="14" width="2" height="2" fill="#8c5410"/><rect x="18" y="14" width="2" height="2" fill="#f4cc20"/><rect x="20" y="14" width="2" height="2" fill="#8c5410"/><rect x="22" y="14" width="2" height="2" fill="#6c6458"/><rect x="24" y="14" width="2" height="2" fill="#d04058"/><rect x="26" y="14" width="2" height="2" fill="#1c0406"/><rect x="0" y="16" width="2" height="2" fill="#1c0406"/><rect x="2" y="16" width="2" height="2" fill="#d04058"/><rect x="4" y="16" width="2" height="2" fill="#6c6458"/><rect x="6" y="16" width="4" height="2" fill="#8c5410"/><rect x="10" y="16" width="2" height="2" fill="#f4cc20"/><rect x="12" y="16" width="6" height="2" fill="#8c5410"/><rect x="18" y="16" width="2" height="2" fill="#f4cc20"/><rect x="20" y="16" width="2" height="2" fill="#8c5410"/><rect x="22" y="16" width="2" height="2" fill="#6c6458"/><rect x="24" y="16" width="2" height="2" fill="#d04058"/><rect x="26" y="16" width="2" height="2" fill="#1c0406"/><rect x="2" y="18" width="2" height="2" fill="#1c0406"/><rect x="4" y="18" width="2" height="2" fill="#e0506c"/><rect x="6" y="18" width="2" height="2" fill="#6c6458"/><rect x="8" y="18" width="2" height="2" fill="#8c5410"/><rect x="10" y="18" width="4" height="2" fill="#f4cc20"/><rect x="14" y="18" width="4" height="2" fill="#fff8d8"/><rect x="18" y="18" width="2" height="2" fill="#f4cc20"/><rect x="20" y="18" width="2" height="2" fill="#6c6458"/><rect x="22" y="18" width="2" height="2" fill="#e0506c"/><rect x="24" y="18" width="2" height="2" fill="#1c0406"/><rect x="2" y="20" width="2" height="2" fill="#1c0406"/><rect x="4" y="20" width="2" height="2" fill="#e0506c"/><rect x="6" y="20" width="4" height="2" fill="#6c6458"/><rect x="10" y="20" width="8" height="2" fill="#8c5410"/><rect x="18" y="20" width="4" height="2" fill="#6c6458"/><rect x="22" y="20" width="2" height="2" fill="#e0506c"/><rect x="24" y="20" width="2" height="2" fill="#1c0406"/><rect x="4" y="22" width="2" height="2" fill="#1c0406"/><rect x="6" y="22" width="2" height="2" fill="#e0506c"/><rect x="8" y="22" width="2" height="2" fill="#f8a8b0"/><rect x="10" y="22" width="8" height="2" fill="#6c6458"/><rect x="18" y="22" width="4" height="2" fill="#e0506c"/><rect x="22" y="22" width="2" height="2" fill="#1c0406"/><rect x="6" y="24" width="4" height="2" fill="#1c0406"/><rect x="10" y="24" width="2" height="2" fill="#e0506c"/><rect x="12" y="24" width="2" height="2" fill="#f8a8b0"/><rect x="14" y="24" width="4" height="2" fill="#e0506c"/><rect x="18" y="24" width="4" height="2" fill="#1c0406"/><rect x="10" y="26" width="8" height="2" fill="#1c0406"/></svg><a>护卫奖章</a><svg class="pc" width="16" height="12" viewBox="0 0 16 12"><rect x="0.5" y="1.5" width="9.5" height="8" rx="1" fill="#f4f0ec" stroke="#8a8a8e" stroke-width="1"/><rect x="2" y="3" width="6.5" height="5" fill="#2f8de0"/><rect x="2" y="3" width="6.5" height="2" fill="#5aa8ec"/><rect x="3" y="10" width="5" height="1.6" fill="#77777b"/><rect x="10.5" y="0.5" width="5" height="11" rx="0.8" fill="#e8e8ea" stroke="#8a8a8e" stroke-width="1"/><rect x="11.5" y="2" width="3" height="1" fill="#a8a8ac"/><rect x="11.5" y="4" width="3" height="1" fill="#b8b0b8"/><rect x="10.4" y="8.5" width="5.4" height="3.3" fill="#3a3a3a"/><rect x="12.6" y="9.2" width="1.6" height="1.4" fill="#20e030"/></svg><svg class="pad" width="17" height="13" viewBox="0 0 17 13"><path d="M3.2 0.9 C4.6 0.1 5.9 0.6 6.6 1.9 L10.4 1.9 C11.1 0.6 12.4 0.1 13.8 0.9 C15.6 2.6 16.6 7.4 16.3 11 C16 12.7 14.4 12.8 13.6 11.6 L11.2 8.3 L5.8 8.3 L3.4 11.6 C2.6 12.8 1 12.7 0.7 11 C0.4 7.4 1.4 2.6 3.2 0.9 Z" fill="#d4d4d4" stroke="#7c7c7c" stroke-width="1.1"/><path d="M3 2.2 C3.8 1.6 4.8 1.7 5.4 2.4 M11.6 2.4 C12.2 1.7 13.2 1.6 14 2.2" stroke="#f4f4f4" stroke-width="0.9" fill="none"/><path d="M3.5 4.4h2.8M4.9 3v2.8" stroke="#5c5c5c" stroke-width="1.3" fill="none"/><circle cx="12.4" cy="4.4" r="1.45" fill="#f8f8f8" stroke="#6c6c6c" stroke-width="0.8"/><circle cx="6.4" cy="6.9" r="0.9" fill="#707070"/><circle cx="10.6" cy="6.9" r="0.9" fill="#707070"/><path d="M2.2 8.5 L3 10.8 M14.8 8.5 L14 10.8" stroke="#b4b4b4" stroke-width="0.9" fill="none"/></svg><span class="t">奖励</span></div></td><td class="s"></td><td></td><td></td><td class="s"></td><td></td><td></td><td class="s r">1</td><td></td><td class="b">1</td><td class="s r">1</td><td class="g">1</td><td class="b">3</td><td class="s r">3</td><td class="g">3</td><td class="b">11</td><td class="s"></td><td class="g">6</td><td class="b">25</td><td class="s"></td><td class="g">15</td><td class="b"><abbr>60</abbr></td></tr>
</table></body></html>
